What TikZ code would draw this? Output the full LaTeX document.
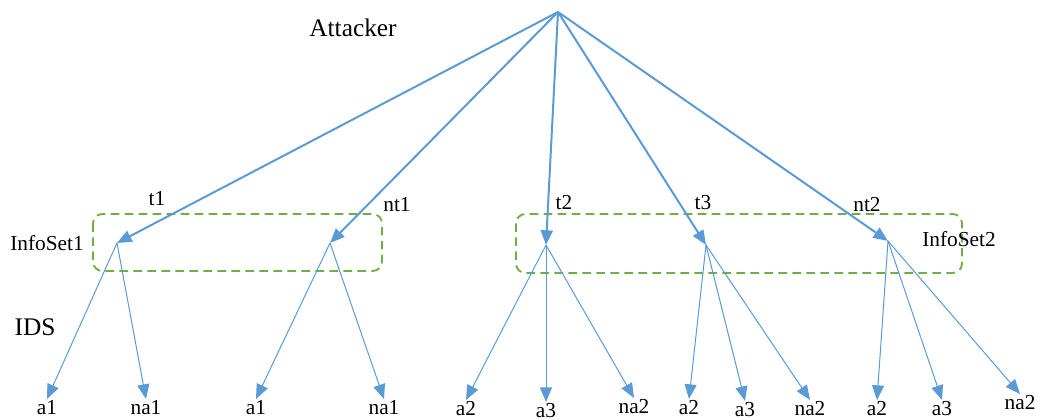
\documentclass[tikz,border=0pt]{standalone}
\usepackage{fontspec}
\setmainfont{Liberation Serif}
\usetikzlibrary{arrows.meta}
\definecolor{edgeblue}{HTML}{5B9BD5}
\definecolor{setgreen}{HTML}{70AD47}
\tikzset{
  topedge/.style={line width=1.5pt, edgeblue, -{Triangle[length=11pt, width=9pt]}},
  idsedge/.style={line width=0.75pt, edgeblue, -{Triangle[length=11pt, width=9pt]}},
  infoset/.style={line width=1.4pt, setgreen, dash pattern=on 6.5pt off 4pt, rounded corners=7pt},
  leaflabel/.style={anchor=north, inner sep=0.5pt, font=\fontsize{16}{18}\selectfont},
  movelabel/.style={inner sep=0pt, font=\fontsize{16}{18}\selectfont},
  playerlabel/.style={inner sep=0pt, font=\fontsize{19}{22}\selectfont},
}

\begin{document}
\begin{tikzpicture}[x=0.75pt,y=-0.75pt]
\useasboundingbox (0,0) rectangle (1042,420);
% information sets
\draw[infoset] (93,214) rectangle (382,271);
\draw[infoset] (516,214) rectangle (962,273);
% decision nodes
\coordinate (root) at (558,12);
\coordinate (t1) at (117,243);
\coordinate (nt1) at (330,243);
\coordinate (t2) at (546,245);
\coordinate (t3) at (706,245);
\coordinate (nt2) at (888,241);
% attacker moves
\foreach \n in {t1,nt1,t2,t3,nt2}
  \draw[topedge] (root) -- (\n);
% leaves
\node[leaflabel] (l1) at (47,399) {a1};
\node[leaflabel] (l2) at (146,399) {na1};
\node[leaflabel] (l3) at (256,399) {a1};
\node[leaflabel] (l4) at (384,399) {na1};
\node[leaflabel] (l5) at (466,400) {a2};
\node[leaflabel] (l6) at (546,402) {a3};
\node[leaflabel] (l7) at (634,398) {na2};
\node[leaflabel] (l8) at (689,399) {a2};
\node[leaflabel] (l9) at (745,401) {a3};
\node[leaflabel] (l10) at (810,400) {na2};
\node[leaflabel] (l11) at (877,400) {a2};
\node[leaflabel] (l12) at (942,400) {a3};
\node[leaflabel] (l13) at (1020,394) {na2};
% IDS moves
\foreach \a/\b in {t1/l1, t1/l2, nt1/l3, nt1/l4, t2/l5, t2/l6, t2/l7,
                   t3/l8, t3/l9, t3/l10, nt2/l11, nt2/l12, nt2/l13}
  \draw[idsedge] (\a) -- (\b.north);
% labels
\node[playerlabel] (attacker) at (353,28) {Attacker};
\node[playerlabel] (ids) at (35,327) {IDS};
\node[movelabel] (lt1) at (157,199) {t1};
\node[movelabel] (lnt1) at (397,205) {nt1};
\node[movelabel] (lt2) at (564,203) {t2};
\node[movelabel] (lt3) at (703,203) {t3};
\node[movelabel] (lnt2) at (867,205) {nt2};
\node[movelabel] (is1) at (47,243) {InfoSet1};
\node[movelabel] (is2) at (959,239) {InfoSet2};
\end{tikzpicture}
\end{document}
